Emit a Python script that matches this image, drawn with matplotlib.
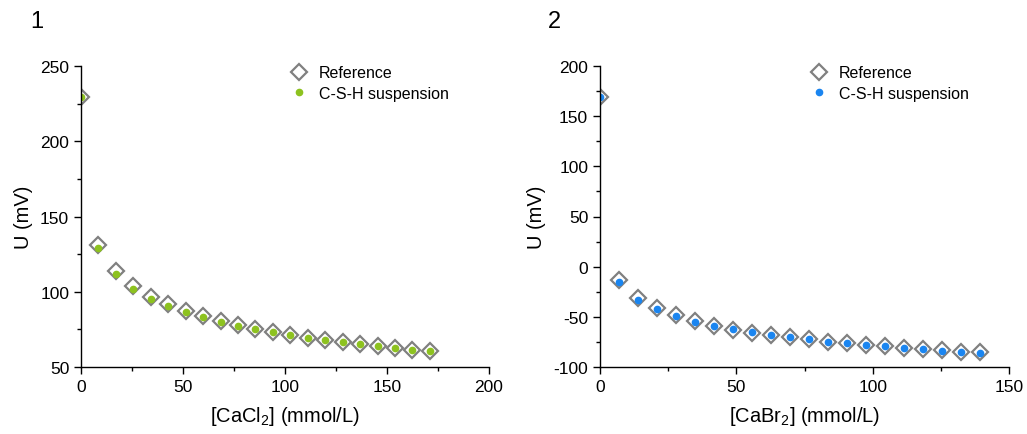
import numpy as np
import matplotlib.pyplot as plt
from matplotlib.ticker import MultipleLocator

plt.rcParams['font.family'] = ['Liberation Sans', 'DejaVu Sans']
plt.rcParams['axes.unicode_minus'] = False
plt.rcParams['mathtext.fontset'] = 'custom'
plt.rcParams['mathtext.rm'] = 'Liberation Sans'

# Panel 1: CaCl2
cacl2 = [0, 8.55, 17.1, 25.65, 34.2, 42.75, 51.3, 59.85, 68.4, 76.95, 85.5,
         94.05, 102.6, 111.15, 119.7, 128.25, 136.8, 145.35, 153.9, 162.45, 171.0]
u1_ref = [229.6, 130.8, 113.5, 103.5, 96.7, 91.8, 87.4, 83.6, 80.3, 77.7, 75.2,
          73.0, 71.2, 69.5, 67.9, 66.4, 65.0, 63.9, 62.6, 61.5, 60.6]
u1_csh = [229.6, 129.2, 112.0, 102.0, 95.4, 90.7, 86.5, 83.0, 80.1, 77.4, 75.0,
          73.0, 71.2, 69.5, 67.9, 66.6, 65.3, 63.9, 62.6, 61.5, 60.6]

# Panel 2: CaBr2
cabr2 = [0, 6.965, 13.93, 20.895, 27.86, 34.825, 41.79, 48.755, 55.72, 62.685, 69.65,
         76.615, 83.58, 90.545, 97.51, 104.475, 111.44, 118.405, 125.37, 132.335, 139.3]
u2_ref = [169.5, -13.4, -31.0, -41.6, -48.3, -54.2, -58.9, -63.2, -65.8, -68.2, -70.2,
          -72.2, -74.8, -76.1, -77.8, -79.1, -80.8, -82.1, -83.4, -84.8, -85.4]
u2_csh = [169.5, -15.4, -33.0, -42.3, -49.6, -54.9, -59.3, -62.5, -65.2, -67.9, -70.2,
          -72.5, -74.8, -76.1, -78.1, -79.1, -80.8, -82.5, -83.8, -84.8, -85.7]

W, H = 1027, 435
fig = plt.figure(figsize=(W / 100, H / 100), dpi=100)

def make_ax(x0, x1, y0, y1):
    return fig.add_axes([x0 / W, 1 - y1 / H, (x1 - x0) / W, (y1 - y0) / H])

def style_ax(ax, xlim, ylim, xstep, ystep, xlabel):
    ax.set_xlim(*xlim)
    ax.set_ylim(*ylim)
    ax.xaxis.set_major_locator(MultipleLocator(xstep))
    ax.xaxis.set_minor_locator(MultipleLocator(xstep / 2))
    ax.yaxis.set_major_locator(MultipleLocator(ystep))
    ax.yaxis.set_minor_locator(MultipleLocator(ystep / 2))
    for s in ['top', 'right']:
        ax.spines[s].set_visible(False)
    for s in ['left', 'bottom']:
        ax.spines[s].set_linewidth(1.0)
    ax.tick_params(which='major', direction='out', length=5, width=1.0, labelsize=12.5)
    ax.tick_params(which='minor', direction='out', length=3, width=1.0)
    ax.set_xlabel(xlabel, fontsize=14.5, labelpad=7)
    ax.set_ylabel('U (mV)', fontsize=14.5, labelpad=5)

def plot_panel(ax, x, ref, csh, color):
    ax.plot(x, ref, linestyle='none', marker='D', markersize=8, markerfacecolor='white',
            markeredgecolor='#808080', markeredgewidth=1.6, label='Reference')
    ax.plot(x, csh, linestyle='none', marker='o', markersize=4.5, markerfacecolor=color,
            markeredgecolor=color, label='C-S-H suspension')
    ax.legend(loc='upper left', bbox_to_anchor=(0.47, 1.05), frameon=False, fontsize=11.5,
              handletextpad=0.5, labelspacing=0.35, handlelength=1.5)

ax1 = make_ax(81, 489, 67, 368)
plot_panel(ax1, cacl2, u1_ref, u1_csh, '#8dc21f')
style_ax(ax1, (0, 200), (50, 250), 50, 50, r'[CaCl$_2$] (mmol/L)')

ax2 = make_ax(600, 1009, 67, 368)
plot_panel(ax2, cabr2, u2_ref, u2_csh, '#1a85f0')
style_ax(ax2, (0, 150), (-100, 200), 50, 50, r'[CaBr$_2$] (mmol/L)')

fig.text(30 / W, 1 - 22 / H, '1', fontsize=17, va='center', ha='left')
fig.text(548 / W, 1 - 22 / H, '2', fontsize=17, va='center', ha='left')

fig.savefig('out.png', dpi=100)
